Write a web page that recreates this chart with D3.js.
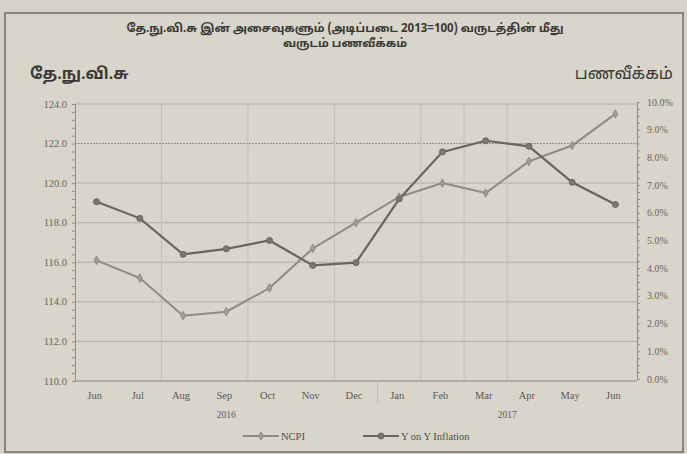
<!DOCTYPE html>
<html>
<head>
<meta charset="utf-8">
<script src="https://cdn.jsdelivr.net/npm/d3@7"></script>
<style>
  body { margin: 0; background: #d5d2c7; }
  svg { display: block; }
</style>
</head>
<body>
<div id="chart"></div>
<script>
// data
var months = ["Jun", "Jul", "Aug", "Sep", "Oct", "Nov", "Dec", "Jan", "Feb", "Mar", "Apr", "May", "Jun"]
var years = ["2016", "2016", "2016", "2016", "2016", "2016", "2016", "2017", "2017", "2017", "2017", "2017", "2017"]
var ncpi = [116.1, 115.2, 113.3, 113.5, 114.7, 116.7, 118.0, 119.3, 120.0, 119.5, 121.1, 121.9, 123.5]
var inflation = [6.4, 5.8, 4.5, 4.7, 5.0, 4.1, 4.2, 6.5, 8.2, 8.6, 8.4, 7.1, 6.3]
var leftTicks = [110, 112, 114, 116, 118, 120, 122, 124]
var rightTicks = [0, 1, 2, 3, 4, 5, 6, 7, 8, 9, 10]
// category boundaries where the faint vertical grid lines show
var vGrid = [2, 4, 6, 8, 9, 10]

var titleLines = ["தே.நு.வி.சு இன் அசைவுகளும் (அடிப்படை 2013=100) வருடத்தின் மீது", "வருடம் பணவீக்கம்"]
var leftTitle = "தே.நு.வி.சு"
var rightTitle = "பணவீக்கம்"
var legendNames = ["NCPI", "Y on Y Inflation"]

var W = 687, H = 454
var plot = {left: 75, right: 637, top: 104, bottom: 381}
var tamilFont = "'Noto Sans Tamil', 'Latha', 'Lohit Tamil', sans-serif"
var serif = "'Liberation Serif', 'DejaVu Serif', serif"
var cLight = "#8e8b84", cDark = "#686660"

var svg = d3.select("#chart")
  .append("svg")
  .attr("width", W)
  .attr("height", H)

// paper frame
svg.append("rect")
  .attr("x", 5).attr("y", 13)
  .attr("width", 678).attr("height", 439)
  .attr("fill", "#d8d5ca")
  .attr("stroke", "#6d6b66")
  .attr("stroke-width", 1.5)

// scales
var x = d3.scaleBand()
  .domain(d3.range(months.length))
  .range([plot.left, plot.right])

var yL = d3.scaleLinear().domain([110, 124]).range([plot.bottom, plot.top])
var yR = d3.scaleLinear().domain([0, 10]).range([plot.bottom - 2, plot.top - 2])

// horizontal grid
svg.append("g")
  .selectAll("line")
  .data(leftTicks)
  .enter()
  .append("line")
  .attr("x1", plot.left).attr("x2", plot.right)
  .attr("y1", function(d) { return yL(d) }).attr("y2", function(d) { return yL(d) })
  .attr("stroke", function(d) { return d == 122 ? "#8f8d87" : "#b2afa5" })
  .attr("stroke-dasharray", function(d) { return d == 122 ? "2,1" : null })
  .attr("stroke-width", 1)

// vertical grid, faint
svg.append("g")
  .selectAll("line")
  .data(vGrid)
  .enter()
  .append("line")
  .attr("x1", function(d) { return x(d) }).attr("x2", function(d) { return x(d) })
  .attr("y1", plot.top).attr("y2", plot.bottom)
  .attr("stroke", "#c2bfb5")
  .attr("stroke-width", 1)

// left axis
var leftAxis = svg.append("g")
  .attr("transform", "translate(" + plot.left + ",0)")
  .call(d3.axisLeft(yL).tickValues(d3.range(110, 124.01, 0.4)).tickSize(3).tickFormat(""))
leftAxis.selectAll("path, line").attr("stroke", "#8f8d87")
svg.append("g")
  .selectAll("text")
  .data(leftTicks)
  .enter()
  .append("text")
  .attr("x", 67)
  .attr("y", function(d) { return yL(d) + 3.5 })
  .attr("text-anchor", "end")
  .attr("font-family", serif)
  .attr("font-size", "10.5px")
  .attr("fill", "#67655f")
  .text(function(d) { return d.toFixed(1) })

// right axis
var rightAxis = svg.append("g")
  .attr("transform", "translate(" + plot.right + ",0)")
  .call(d3.axisRight(yR).tickValues(d3.range(0, 10.01, 0.25)).tickSize(3).tickFormat(""))
rightAxis.selectAll("path, line").attr("stroke", "#8f8d87")
svg.append("g")
  .selectAll("text")
  .data(rightTicks)
  .enter()
  .append("text")
  .attr("x", 647)
  .attr("y", function(d) { return yR(d) + 3.5 })
  .attr("font-family", serif)
  .attr("font-size", "10px")
  .attr("fill", "#67655f")
  .text(function(d) { return d.toFixed(1) + "%" })

// bottom axis line
svg.append("line")
  .attr("x1", plot.left).attr("x2", plot.right)
  .attr("y1", plot.bottom).attr("y2", plot.bottom)
  .attr("stroke", "#9a978f")

// month labels
svg.append("g")
  .selectAll("text")
  .data(months)
  .enter()
  .append("text")
  .attr("x", function(d, i) { return x(i) + x.bandwidth() / 2 - 2 })
  .attr("y", 399)
  .attr("text-anchor", "middle")
  .attr("font-family", serif)
  .attr("font-size", "10.5px")
  .attr("fill", "#5b5954")
  .text(function(d) { return d })

// year groups
var groups = d3.groups(d3.range(months.length), function(i) { return years[i] })
svg.append("g")
  .selectAll("text")
  .data(groups)
  .enter()
  .append("text")
  .attr("x", function(g) {
    var a = x(g[1][0]), b = x(g[1][g[1].length - 1]) + x.bandwidth()
    return (a + b) / 2
  })
  .attr("y", 418)
  .attr("text-anchor", "middle")
  .attr("font-family", serif)
  .attr("font-size", "9.5px")
  .attr("fill", "#5b5954")
  .text(function(g) { return g[0] })

// separator between the year groups
svg.append("line")
  .attr("x1", x(7)).attr("x2", x(7))
  .attr("y1", plot.bottom).attr("y2", 404)
  .attr("stroke", "#bcb9af")

// lines
var lineL = d3.line()
  .x(function(d, i) { return x(i) + x.bandwidth() / 2 })
  .y(function(d) { return yL(d) })
var lineR = d3.line()
  .x(function(d, i) { return x(i) + x.bandwidth() / 2 })
  .y(function(d) { return yR(d) })

svg.append("path")
  .datum(ncpi)
  .attr("d", lineL)
  .attr("fill", "none")
  .attr("stroke", cLight)
  .attr("stroke-width", 2)

svg.append("path")
  .datum(inflation)
  .attr("d", lineR)
  .attr("fill", "none")
  .attr("stroke", cDark)
  .attr("stroke-width", 2.2)

// markers
var cross = d3.symbol().type(d3.symbolDiamond).size(20)
svg.append("g")
  .selectAll("path")
  .data(ncpi)
  .enter()
  .append("path")
  .attr("d", cross)
  .attr("transform", function(d, i) { return "translate(" + (x(i) + x.bandwidth() / 2) + "," + yL(d) + ")" })
  .attr("fill", "#a09e97")
  .attr("stroke", cLight)

svg.append("g")
  .selectAll("circle")
  .data(inflation)
  .enter()
  .append("circle")
  .attr("cx", function(d, i) { return x(i) + x.bandwidth() / 2 })
  .attr("cy", function(d) { return yR(d) })
  .attr("r", 3)
  .attr("fill", "#7a7872")
  .attr("stroke", cDark)

// titles
svg.append("g")
  .selectAll("text")
  .data(titleLines)
  .enter()
  .append("text")
  .attr("x", 345)
  .attr("y", function(d, i) { return 32 + i * 15 })
  .attr("text-anchor", "middle")
  .attr("font-family", tamilFont)
  .attr("font-size", "11.5px")
  .attr("font-weight", "bold")
  .attr("fill", "#3a3936")
  .text(function(d) { return d })

svg.append("text")
  .attr("x", 30).attr("y", 79)
  .attr("font-family", tamilFont)
  .attr("font-size", "16px")
  .attr("font-weight", "bold")
  .attr("fill", "#3a3936")
  .text(leftTitle)

svg.append("text")
  .attr("x", 673).attr("y", 79)
  .attr("text-anchor", "end")
  .attr("font-family", tamilFont)
  .attr("font-size", "16.5px")
  .attr("fill", "#3a3936")
  .text(rightTitle)

// legend
var legend = [
  {name: legendNames[0], x: 243, color: cLight, mark: "diamond"},
  {name: legendNames[1], x: 363, color: cDark, mark: "circle"}
]
var lg = svg.append("g")
  .selectAll("g")
  .data(legend)
  .enter()
  .append("g")
  .attr("transform", function(d) { return "translate(" + d.x + ",436)" })
lg.append("line")
  .attr("x1", 0).attr("x2", 36)
  .attr("stroke", function(d) { return d.color })
  .attr("stroke-width", 1.8)
lg.each(function(d) {
  if (d.mark == "circle") {
    d3.select(this).append("circle").attr("cx", 18).attr("r", 3).attr("fill", "#7a7872").attr("stroke", d.color)
  } else {
    d3.select(this).append("path").attr("d", cross).attr("transform", "translate(18,0)").attr("fill", "#a09e97").attr("stroke", d.color)
  }
})
lg.append("text")
  .attr("x", 38)
  .attr("y", 4)
  .attr("font-family", serif)
  .attr("font-size", "10.5px")
  .attr("fill", "#4f4d49")
  .text(function(d) { return d.name })
</script>
</body>
</html>
